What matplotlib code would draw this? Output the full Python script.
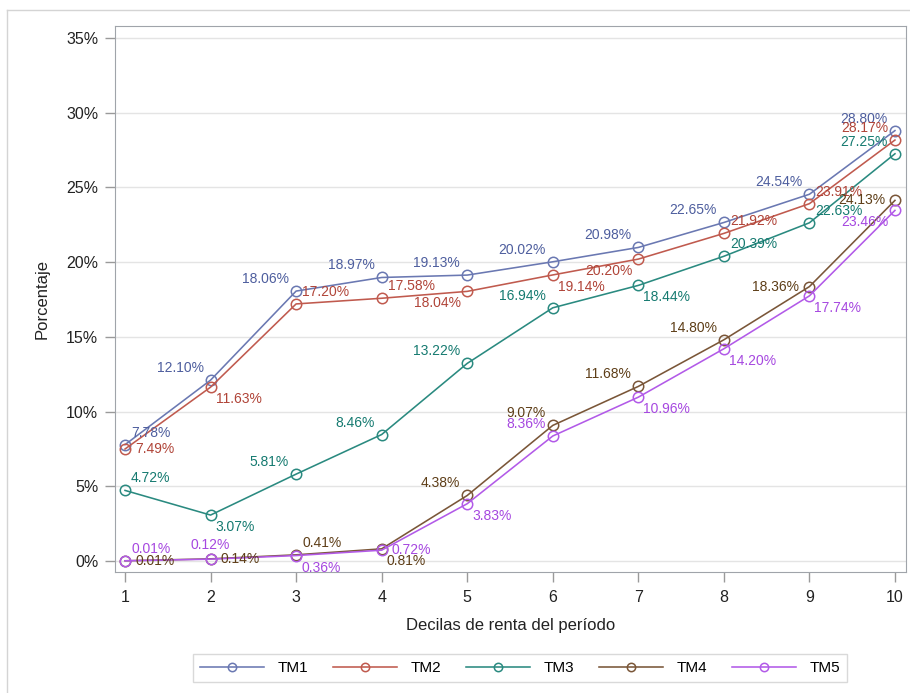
import matplotlib
matplotlib.use("Agg")
import matplotlib.pyplot as plt
from matplotlib.lines import Line2D

plt.rcParams['font.family'] = ['Liberation Sans', 'DejaVu Sans']

deciles = [1, 2, 3, 4, 5, 6, 7, 8, 9, 10]
series_names = ["TM1", "TM2", "TM3", "TM4", "TM5"]
tm1 = [7.78, 12.10, 18.06, 18.97, 19.13, 20.02, 20.98, 22.65, 24.54, 28.80]
tm2 = [7.49, 11.63, 17.20, 17.58, 18.04, 19.14, 20.20, 21.92, 23.91, 28.17]
tm3 = [4.72, 3.07, 5.81, 8.46, 13.22, 16.94, 18.44, 20.39, 22.63, 27.25]
tm4 = [0.01, 0.14, 0.41, 0.81, 4.38, 9.07, 11.68, 14.80, 18.36, 24.13]
tm5 = [0.01, 0.12, 0.36, 0.72, 3.83, 8.36, 10.96, 14.20, 17.74, 23.46]
yticks = [0, 5, 10, 15, 20, 25, 30, 35]

series = [tm1, tm2, tm3, tm4, tm5]
line_colors = ["#6a78b2", "#c05a4e", "#2a8a80", "#7a5638", "#b25ae8"]
text_colors = ["#4e5e9e", "#b04438", "#157a70", "#5e3e18", "#a648e0"]

# label placement codes for each point
placements = [
    ['UR', 'UL', 'UL', 'UL', 'UL', 'UL', 'UL', 'UL', 'UL', 'UL'],
    ['R', 'BR', 'UR', 'UR', 'BL', 'BR', 'BL', 'UR', 'UR', 'UL'],
    ['UR', 'BR', 'UL', 'UL', 'UL', 'UL', 'BR', 'UR', 'UR', 'UL'],
    ['R', 'R', 'UR', 'BR', 'UL', 'UL', 'UL', 'UL', 'L', 'L'],
    ['UR', 'U', 'BR', 'R', 'BR', 'UL', 'BR', 'BR', 'BR', 'BL'],
]
pl_map = {
    'UL': ((-7, 5), 'right', 'bottom'),
    'UR': ((6, 5), 'left', 'bottom'),
    'U': ((0, 7), 'center', 'bottom'),
    'R': ((10, 0), 'left', 'center'),
    'L': ((-10, 0), 'right', 'center'),
    'BR': ((5, -5), 'left', 'top'),
    'BL': ((-6, -5), 'right', 'top'),
}

fig = plt.figure(figsize=(9.1, 6.93), dpi=100)
ax = fig.add_axes([115/910, (693-572)/693, (906-115)/910, (572-26)/693])

for i, (name, vals) in enumerate(zip(series_names, series)):
    ax.plot(deciles, vals, color=line_colors[i], lw=1.15, marker='o', ms=7.5,
            mfc='none', mec=line_colors[i], mew=1.1, label=name, zorder=3)
    for x, v, p in zip(deciles, vals, placements[i]):
        off, ha, va = pl_map[p]
        ax.annotate(f"{v:.2f}%", (x, v), xytext=off, textcoords='offset pixels',
                    ha=ha, va=va, fontsize=10, color=text_colors[i], zorder=4)

ax.set_xlim(0.883, 10.129)
ax.set_ylim(-0.74, 35.8)
ax.set_xticks(deciles)
ax.set_yticks(yticks)
ax.set_yticklabels([f"{t}%" for t in yticks])
ax.grid(axis='y', color='#e4e4e4', lw=1, zorder=0)
ax.set_axisbelow(True)
for s in ax.spines.values():
    s.set_color('#a0a4aa')
ax.tick_params(axis='both', colors='#9a9a9a', labelcolor='#222222', labelsize=11.5,
               length=7, width=1)
ax.tick_params(axis='x', pad=6)
ax.tick_params(axis='y', pad=5)
ax.set_xlabel("Decilas de renta del período", fontsize=12, color='#222222', labelpad=9)
ax.set_ylabel("Porcentaje", fontsize=12, color='#222222', labelpad=12)

leg = fig.legend(loc='center', bbox_to_anchor=(520/910, (693-668)/693), ncol=5,
                 fontsize=11, frameon=True, fancybox=False, edgecolor='#d0d0d0',
                 handlelength=4.2, columnspacing=1.6, handletextpad=0.9,
                 borderpad=0.45, markerscale=0.8)
leg.get_frame().set_linewidth(1)

# outer border
fig.add_artist(Line2D([7/910, 7/910], [0, (693-10)/693], color='#d4d4d4', lw=1))
fig.add_artist(Line2D([7/910, 1], [(693-10)/693, (693-10)/693], color='#d4d4d4', lw=1))

fig.savefig("out.png", dpi=100)
